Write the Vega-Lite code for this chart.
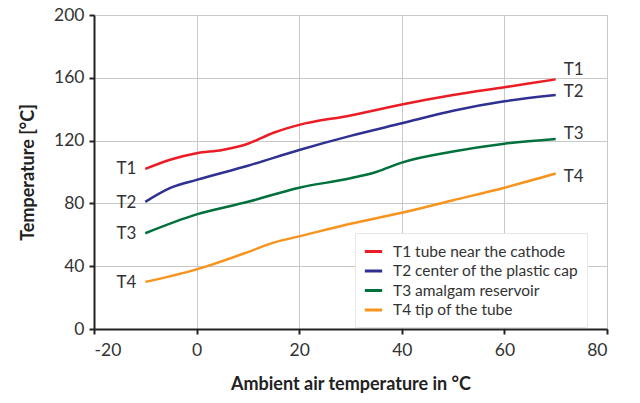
{
  "$schema": "https://vega.github.io/schema/vega-lite/v6.json",
  "width": 513,
  "height": 314,
  "autosize": {"type": "none"},
  "padding": {"left": 94, "top": 15, "right": 33, "bottom": 74},
  "background": "white",
  "config": {
    "font": "Lato",
    "view": {"stroke": "#b4b4b4", "strokeWidth": 1},
    "axis": {
      "domainColor": "#222222",
      "domainWidth": 2,
      "tickColor": "#222222",
      "tickWidth": 2,
      "tickSize": 5,
      "gridColor": "#c8c8c8",
      "gridWidth": 1,
      "labelFont": "Lato",
      "labelFontSize": 17.5,
      "labelColor": "#333333",
      "titleFont": "Lato",
      "titleFontSize": 18,
      "titleFontWeight": "bold",
      "titleColor": "#222222"
    }
  },
  "datasets": {
    "lines": [
      {"ambient": -10, "temp": 102, "series": "T1 tube near the cathode"},
      {"ambient": -5, "temp": 108, "series": "T1 tube near the cathode"},
      {"ambient": 0, "temp": 112, "series": "T1 tube near the cathode"},
      {"ambient": 5, "temp": 114, "series": "T1 tube near the cathode"},
      {"ambient": 10, "temp": 118, "series": "T1 tube near the cathode"},
      {"ambient": 15, "temp": 125, "series": "T1 tube near the cathode"},
      {"ambient": 20, "temp": 130, "series": "T1 tube near the cathode"},
      {"ambient": 30, "temp": 136, "series": "T1 tube near the cathode"},
      {"ambient": 40, "temp": 143, "series": "T1 tube near the cathode"},
      {"ambient": 50, "temp": 149, "series": "T1 tube near the cathode"},
      {"ambient": 60, "temp": 154, "series": "T1 tube near the cathode"},
      {"ambient": 70, "temp": 159, "series": "T1 tube near the cathode"},
      {"ambient": -10, "temp": 81, "series": "T2 center of the plastic cap"},
      {"ambient": -5, "temp": 90, "series": "T2 center of the plastic cap"},
      {"ambient": 0, "temp": 95, "series": "T2 center of the plastic cap"},
      {"ambient": 10, "temp": 104, "series": "T2 center of the plastic cap"},
      {"ambient": 20, "temp": 114, "series": "T2 center of the plastic cap"},
      {"ambient": 30, "temp": 123, "series": "T2 center of the plastic cap"},
      {"ambient": 40, "temp": 131, "series": "T2 center of the plastic cap"},
      {"ambient": 50, "temp": 139, "series": "T2 center of the plastic cap"},
      {"ambient": 60, "temp": 145, "series": "T2 center of the plastic cap"},
      {"ambient": 70, "temp": 149, "series": "T2 center of the plastic cap"},
      {"ambient": -10, "temp": 61, "series": "T3 amalgam reservoir"},
      {"ambient": 0, "temp": 73, "series": "T3 amalgam reservoir"},
      {"ambient": 10, "temp": 81, "series": "T3 amalgam reservoir"},
      {"ambient": 20, "temp": 90, "series": "T3 amalgam reservoir"},
      {"ambient": 30, "temp": 96, "series": "T3 amalgam reservoir"},
      {"ambient": 35, "temp": 100, "series": "T3 amalgam reservoir"},
      {"ambient": 40, "temp": 106, "series": "T3 amalgam reservoir"},
      {"ambient": 50, "temp": 113, "series": "T3 amalgam reservoir"},
      {"ambient": 60, "temp": 118, "series": "T3 amalgam reservoir"},
      {"ambient": 70, "temp": 121, "series": "T3 amalgam reservoir"},
      {"ambient": -10, "temp": 30, "series": "T4 tip of the tube"},
      {"ambient": 0, "temp": 38, "series": "T4 tip of the tube"},
      {"ambient": 10, "temp": 49, "series": "T4 tip of the tube"},
      {"ambient": 15, "temp": 55, "series": "T4 tip of the tube"},
      {"ambient": 20, "temp": 59, "series": "T4 tip of the tube"},
      {"ambient": 30, "temp": 67, "series": "T4 tip of the tube"},
      {"ambient": 40, "temp": 74, "series": "T4 tip of the tube"},
      {"ambient": 50, "temp": 82, "series": "T4 tip of the tube"},
      {"ambient": 60, "temp": 90, "series": "T4 tip of the tube"},
      {"ambient": 70, "temp": 99, "series": "T4 tip of the tube"}
    ],
    "leftLabels": [
      {"ambient": -10, "temp": 102, "label": "T1"},
      {"ambient": -10, "temp": 80, "label": "T2"},
      {"ambient": -10, "temp": 60.5, "label": "T3"},
      {"ambient": -10, "temp": 29, "label": "T4"}
    ],
    "rightLabels": [
      {"ambient": 70, "temp": 165, "label": "T1"},
      {"ambient": 70, "temp": 151, "label": "T2"},
      {"ambient": 70, "temp": 124, "label": "T3"},
      {"ambient": 70, "temp": 97, "label": "T4"}
    ]
  },
  "layer": [
    {
      "data": {"name": "lines"},
      "mark": {"type": "line", "interpolate": "monotone", "strokeWidth": 2.5},
      "encoding": {
        "x": {
          "field": "ambient", "type": "quantitative",
          "scale": {"domain": [-20, 80], "nice": false},
          "axis": {"values": [-20, 0, 20, 40, 60, 80], "labelExpr": "datum.value < 0 ? '-' + abs(datum.value) : '' + datum.value", "title": "Ambient air temperature in °C", "titlePadding": 17, "labelPadding": 7}
        },
        "y": {
          "field": "temp", "type": "quantitative",
          "scale": {"domain": [0, 200], "nice": false},
          "axis": {"values": [0, 40, 80, 120, 160, 200], "title": "Temperature [°C]", "titlePadding": 16, "labelPadding": 5}
        },
        "color": {
          "field": "series", "type": "nominal",
          "scale": {
            "domain": ["T1 tube near the cathode", "T2 center of the plastic cap", "T3 amalgam reservoir", "T4 tip of the tube"],
            "range": ["#ec1c24", "#2e3192", "#00703c", "#f7941d"]
          },
          "legend": {
            "title": null,
            "orient": "none",
            "legendX": 261,
            "legendY": 218,
            "fillColor": "white",
            "strokeColor": "#e6e6e6",
            "padding": 8,
            "symbolType": "stroke",
            "symbolStrokeWidth": 3,
            "symbolSize": 300,
            "labelFont": "Lato",
            "labelFontSize": 15.5,
            "labelColor": "#333333",
            "labelLimit": 0,
            "rowPadding": 0.5,
            "labelOffset": 9
          }
        }
      }
    },
    {
      "data": {"name": "leftLabels"},
      "mark": {"type": "text", "align": "right", "baseline": "middle", "dx": -9, "fontSize": 17, "color": "#333333", "font": "Lato"},
      "encoding": {
        "x": {"field": "ambient", "type": "quantitative"},
        "y": {"field": "temp", "type": "quantitative"},
        "text": {"field": "label"}
      }
    },
    {
      "data": {"name": "rightLabels"},
      "mark": {"type": "text", "align": "left", "baseline": "middle", "dx": 8, "fontSize": 17, "color": "#333333", "font": "Lato"},
      "encoding": {
        "x": {"field": "ambient", "type": "quantitative"},
        "y": {"field": "temp", "type": "quantitative"},
        "text": {"field": "label"}
      }
    }
  ]
}
